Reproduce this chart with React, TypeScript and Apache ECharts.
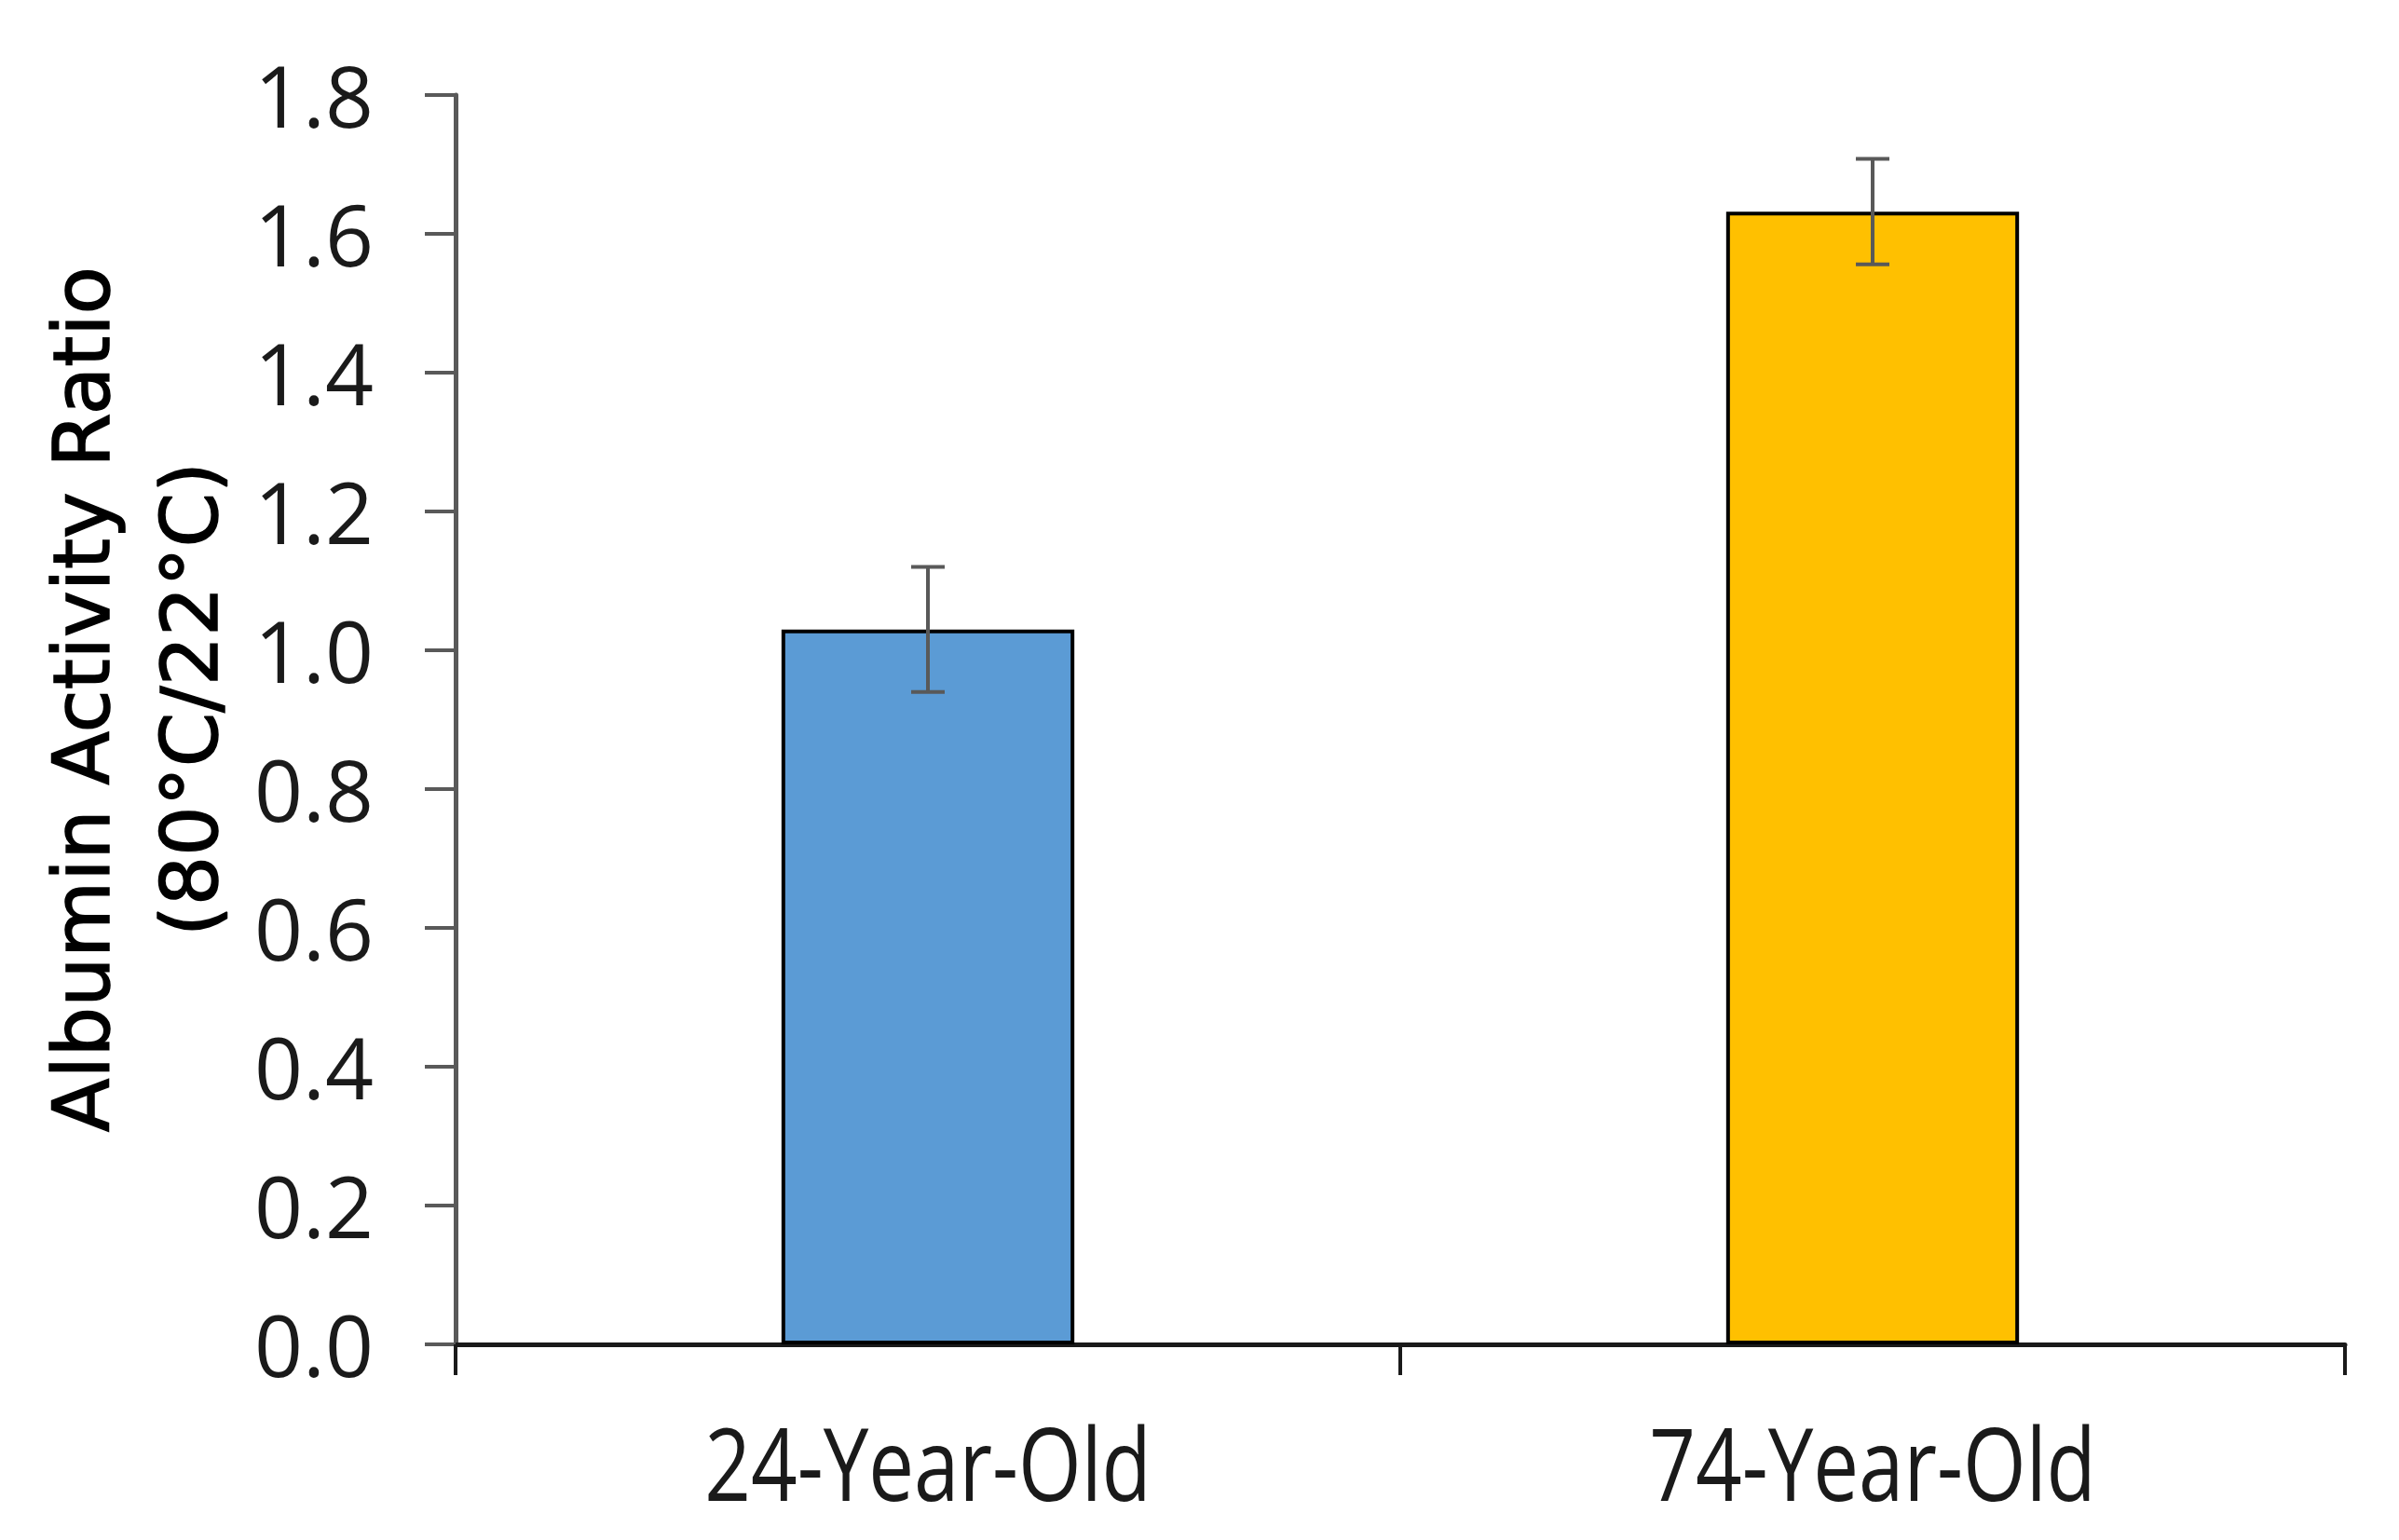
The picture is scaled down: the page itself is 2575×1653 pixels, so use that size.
import React, { useEffect, useRef } from "react";
import * as echarts from "echarts";

const categories = ["24-Year-Old", "74-Year-Old"];
const means = [1.03, 1.632];
const errors = [0.09, 0.076];
const barColors = ["#5B9BD5", "#FFC000"];
const yTicks = { min: 0, max: 1.8, interval: 0.2 };
const yTitle = "Albumin Activity Ratio\n(80°C/22°C)";

export default function App() {
  const ref = useRef<HTMLDivElement>(null);
  useEffect(() => {
    document.body.style.margin = "0";
    const chart = echarts.init(ref.current!, null, { renderer: "svg" });
    const errData = means.map((m, i) => [i, m - errors[i], m + errors[i]]);
    chart.setOption({
      animation: false,
      backgroundColor: "#ffffff",
      grid: { left: 489, right: 58, top: 102, bottom: 210, containLabel: false, outerBoundsMode: "none" },
      xAxis: {
        type: "category",
        data: categories,
        boundaryGap: true,
        axisLine: { show: true, lineStyle: { color: "#1a1a1a", width: 5 } },
        axisTick: { show: true, length: 33, alignWithLabel: false, lineStyle: { color: "#1a1a1a", width: 4 } },
        axisLabel: { show: false },
        splitLine: { show: false },
      },
      yAxis: {
        type: "value",
        min: yTicks.min,
        max: yTicks.max,
        interval: yTicks.interval,
        name: yTitle,
        nameLocation: "middle",
        nameRotate: 90,
        nameGap: 221,
        nameTextStyle: {
          fontSize: 84,
          fontFamily: "DejaVu Sans",
          color: "#000000",
          lineHeight: 116,
          textBorderColor: "#000000",
          textBorderWidth: 1.5,
          padding: [0, 0, 0, 44],
        },
        axisLine: { show: true, lineStyle: { color: "#595959", width: 5 } },
        axisTick: { show: true, length: 33, lineStyle: { color: "#595959", width: 4 } },
        axisLabel: {
          margin: 88,
          fontSize: 91,
          fontFamily: "Open Sans",
          color: "#1a1a1a",
          formatter: (v: number) => v.toFixed(1),
        },
        splitLine: { show: false },
      },
      series: [
        {
          type: "bar",
          barWidth: "31%",
          data: means.map((m, i) => ({
            value: m,
            itemStyle: { color: barColors[i], borderColor: "#000000", borderWidth: 4 },
          })),
          z: 2,
        },
        {
          type: "custom",
          data: errData,
          z: 3,
          renderItem: (params: any, api: any) => {
            const x = api.value(0);
            const lo = api.coord([x, api.value(1)]);
            const hi = api.coord([x, api.value(2)]);
            const hw = 18;
            const style = { stroke: "#595959", lineWidth: 4 };
            return {
              type: "group",
              children: [
                { type: "line", shape: { x1: hi[0], y1: hi[1], x2: lo[0], y2: lo[1] }, style },
                { type: "line", shape: { x1: hi[0] - hw, y1: hi[1], x2: hi[0] + hw, y2: hi[1] }, style },
                { type: "line", shape: { x1: lo[0] - hw, y1: lo[1], x2: lo[0] + hw, y2: lo[1] }, style },
              ],
            };
          },
        },
      ],
    });
    // category labels: condensed look (taller than wide) as in the reference
    const baseY = chart.convertToPixel({ yAxisIndex: 0 }, 0) as number;
    chart.setOption({
      graphic: categories.map((c, i) => ({
        type: "text",
        x: chart.convertToPixel({ xAxisIndex: 0 }, c) as number,
        y: baseY + 126,
        scaleX: 1,
        scaleY: 1.25,
        silent: true,
        style: {
          text: c,
          fontSize: 87,
          fontFamily: "Open Sans",
          fill: "#1a1a1a",
          textAlign: "center",
          textVerticalAlign: "middle",
          verticalAlign: "middle",
        },
      })),
    });
    return () => chart.dispose();
  }, []);
  return <div ref={ref} style={{ position: "absolute", left: 0, top: 0, width: 2575, height: 1653 }} />;
}
